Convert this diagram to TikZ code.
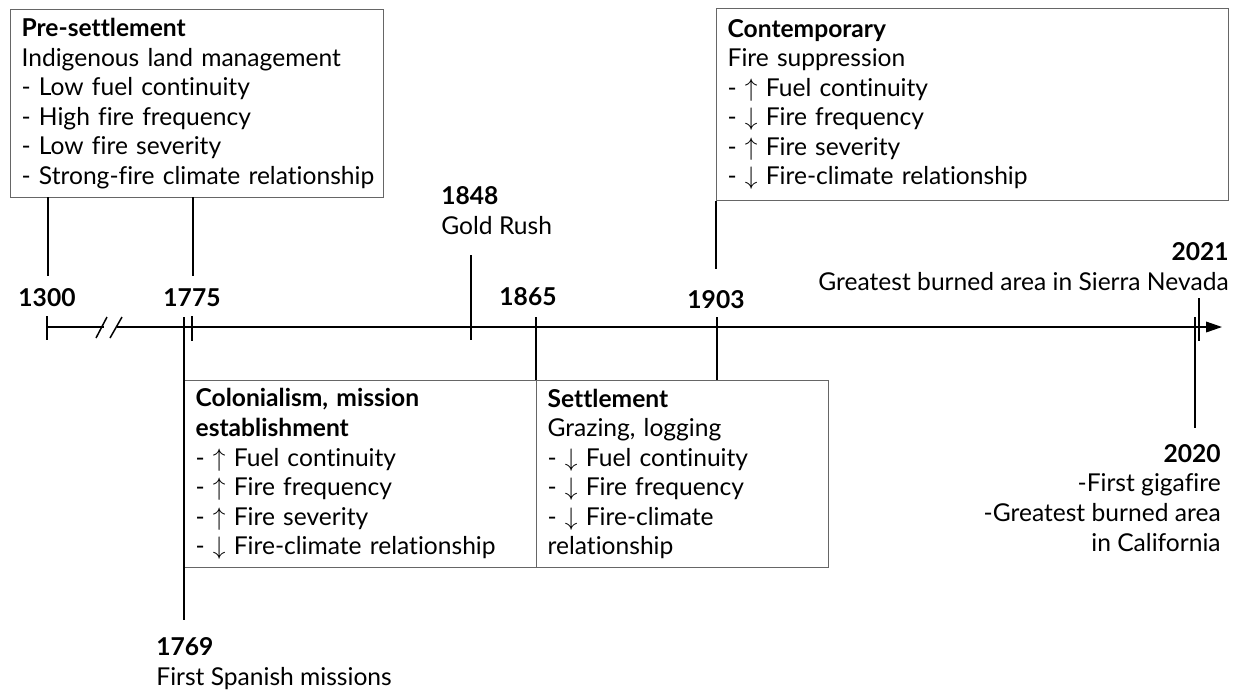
\documentclass[tikz,border=0pt]{standalone}
\usepackage{fontspec}
\setmainfont{Lato}[Ligatures=NoCommon]
\usetikzlibrary{arrows.meta,positioning,calc}

\tikzset{
    txt/.style={font=\fontsize{14}{16.8}\selectfont, inner sep=0pt},
    era/.style={txt, draw=black!60, line width=0.7pt, anchor=north west, align=left,
        inner xsep=0.22cm},
    tickline/.style={line width=0.85pt},
    hdr/.style={txt, font=\fontsize{14}{16.8}\selectfont\bfseries}
}

\begin{document}
\begin{tikzpicture}[x=0.02cm, y=-0.02cm]
    \useasboundingbox (0,0) rectangle (1240,691);

    % era boxes
    \node[era, text width=7.02cm, minimum height=3.76cm] (pre) at (10,9)
        {\textbf{Pre-settlement}\\Indigenous land management\\- Low fuel continuity\\- High fire frequency\\- Low fire severity\\\mbox{- Strong-fire climate relationship}};
    \node[era, text width=9.80cm, minimum height=3.84cm] (con) at (716,8)
        {\textbf{Contemporary}\\Fire suppression\\- $\uparrow$ Fuel continuity\\- $\downarrow$ Fire frequency\\- $\uparrow$ Fire severity\\- $\downarrow$ Fire-climate relationship};
    \node[era, text width=6.60cm, minimum height=3.74cm] (col) at (184,380)
        {\textbf{Colonialism, mission}\\\textbf{establishment}\\- $\uparrow$ Fuel continuity\\- $\uparrow$ Fire frequency\\- $\uparrow$ Fire severity\\\mbox{- $\downarrow$ Fire-climate relationship}};
    \node[era, text width=5.40cm, minimum height=3.74cm] (set) at (536,380)
        {\textbf{Settlement}\\Grazing, logging\\- $\downarrow$ Fuel continuity\\- $\downarrow$ Fire frequency\\- $\downarrow$ Fire-climate\\relationship};

    % axis points
    \coordinate (a0) at (47,327);
    \coordinate (a1) at (1222,327);
    \coordinate (b0) at (104,327);
    \coordinate (b1) at (117,327);
    \coordinate (t1775) at (192,327);
    \coordinate (t1769) at (184,327);
    \coordinate (t1848) at (471,327);
    \coordinate (t1865) at (536,327);
    \coordinate (t1903) at (717,327);
    \coordinate (t2021) at (1199,327);
    \coordinate (t2020) at (1195,327);
    \coordinate (l1300) at (48,197);
    \coordinate (l1775) at (193,197);

    % year labels
    \node[hdr, anchor=base] (y1300) at (47,306) {1300};
    \node[hdr, anchor=base] (y1775) at (192,306) {1775};
    \node[hdr, anchor=base] (y1865) at (528,305) {1865};
    \node[hdr, anchor=base] (y1903) at (716,308) {1903};
    \node[txt, anchor=base west, align=left] (y1848) at (441,234) {\textbf{1848}\\Gold Rush};
    \node[txt, anchor=base east, align=right] (y2021) at (1229,290) {\textbf{2021}\\Greatest burned area in Sierra Nevada};
    \node[txt, anchor=base east, align=right] (y2020) at (1221,551) {\textbf{2020}\\-First gigafire\\-Greatest burned area\\in California};
    \node[txt, anchor=base west, align=left] (y1769) at (156,685) {\textbf{1769}\\First Spanish missions};

    % axis
    \draw[tickline] (a0) -- (b0);
    \draw[tickline, -{Stealth[length=9pt, width=6pt, inset=0pt]}] (b1) -- (a1);
    \draw[tickline] (96,338) -- (107,317) (110,338) -- (122,317);

    % ticks
    \draw[tickline]
        ($(a0)+(0,-11)$) -- ($(a0)+(0,13)$)
        ($(t1775)+(0,-11)$) -- ($(t1775)+(0,14)$)
        ($(t1769)+(0,-10)$) -- ($(t1769)+(0,293)$)
        ($(t1848)+(0,-72)$) -- ($(t1848)+(0,13)$)
        ($(t1865)+(0,-10)$) -- (t1865 |- col.north)
        ($(t1903)+(0,-10)$) -- (t1903 |- set.north)
        ($(t2021)+(0,-29)$) -- ($(t2021)+(0,14)$)
        ($(t2020)+(0,-10)$) -- ($(t2020)+(0,101)$);

    % links from boxes
    \draw[tickline]
        (l1300) -- ++(0,79)
        (l1775) -- ++(0,79)
        (con.south west) -- ++(0,68);
\end{tikzpicture}
\end{document}
